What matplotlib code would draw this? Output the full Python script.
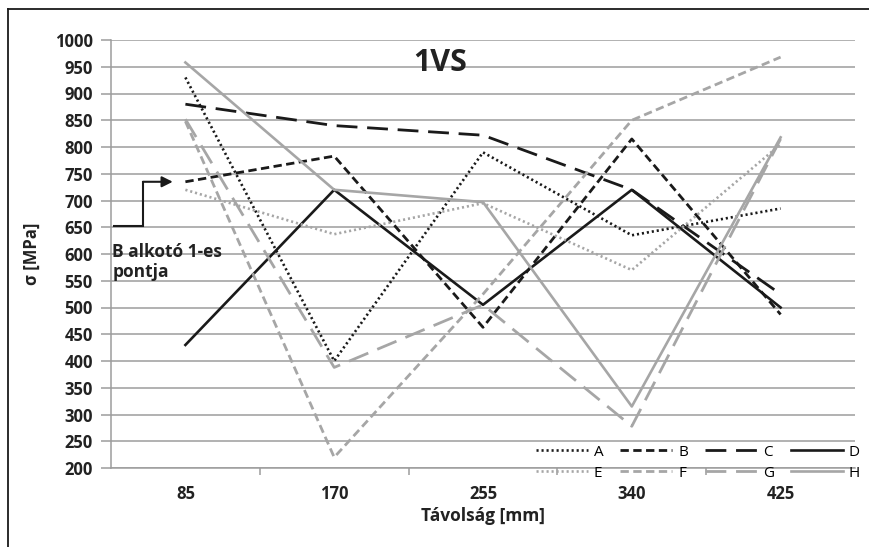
import numpy as np
import matplotlib
matplotlib.use("Agg")
import matplotlib.pyplot as plt
from matplotlib.lines import Line2D

plt.rcParams["font.family"] = ["Open Sans", "DejaVu Sans"]

# distances along the part [mm]
distances = ["85", "170", "255", "340", "425"]

# stress per measuring line [MPa]
A = [930, 400, 790, 635, 685]
B = [735, 783, 463, 815, 487]
C = [880, 840, 822, 720, 525]
D = [430, 720, 505, 720, 500]
E = [720, 637, 695, 570, 805]
F = [848, 220, 525, 850, 968]
G = [852, 388, 505, 278, 815]
H = [958, 720, 697, 315, 818]

series = {"A": A, "B": B, "C": C, "D": D, "E": E, "F": F, "G": G, "H": H}

black = "#1a1a1a"
grey = "#a6a6a6"
styles = {
    "A": dict(color=black, lw=1.9, ls=(0, (0.8, 1.1))),
    "B": dict(color=black, lw=2.0, ls=(0, (3.0, 1.6))),
    "C": dict(color=black, lw=2.0, ls=(0, (7.5, 3.5))),
    "D": dict(color=black, lw=1.9, ls="-"),
    "E": dict(color=grey, lw=1.9, ls=(0, (0.8, 1.1))),
    "F": dict(color=grey, lw=2.0, ls=(0, (3.0, 1.6))),
    "G": dict(color=grey, lw=2.0, ls=(0, (7.5, 3.5))),
    "H": dict(color=grey, lw=1.9, ls="-"),
}

fig = plt.figure(figsize=(8.7, 5.47), dpi=100)
ax = fig.add_axes([111 / 870, 79 / 547, 744 / 870, 428 / 547])

x = np.arange(len(distances))
lines = {}
for name, vals in series.items():
    lines[name], = ax.plot(x, vals, label=name, **styles[name])

ax.set_xlim(-0.5, len(distances) - 0.5)
ax.set_ylim(200, 1000)
ax.set_yticks(np.arange(200, 1001, 50))
ax.set_xticks(x)
ax.set_xticklabels(distances)
ax.set_xticks(np.arange(0.5, len(distances) - 1, 1), minor=True)

gridc = "#9c9c9c"
ax.yaxis.grid(True, color=gridc, lw=1.1)
ax.set_axisbelow(True)
for s in ["top", "right"]:
    ax.spines[s].set_visible(False)
for s in ["left", "bottom"]:
    ax.spines[s].set_color(gridc)
    ax.spines[s].set_linewidth(1.1)

ax.tick_params(axis="y", which="major", length=7, color=gridc, width=1.1,
               labelsize=12, pad=6, labelcolor="#222222")
ax.tick_params(axis="x", which="major", length=0, labelsize=12, pad=12,
               labelcolor="#222222")
ax.tick_params(axis="x", which="minor", length=5, color=gridc, width=1.1)
for lab in ax.get_xticklabels() + ax.get_yticklabels():
    lab.set_fontweight("bold")

ax.set_xlabel("Távolság [mm]", fontsize=12.5, fontweight="bold", labelpad=3,
              color="#222222")
ax.set_ylabel("σ [MPa]", fontsize=12, fontweight="bold", labelpad=10,
              color="#222222")

ax.text(1.71, 957, "1VS", fontsize=22, fontweight="bold", ha="center",
        va="center", color="#222222")

# pointer to the first point of series B
ax.plot([-0.483, -0.282, -0.282], [652, 652, 735], color=black, lw=1.5,
        solid_joinstyle="miter")
ax.annotate("", xy=(-0.085, B[0]), xytext=(-0.285, B[0]),
            arrowprops=dict(arrowstyle="-|>", color=black, lw=1.5,
                            mutation_scale=16, shrinkA=0, shrinkB=0))
ax.text(-0.49, 621, "B alkotó 1-es\npontja", fontsize=12.5, fontweight="bold",
        ha="left", va="top", color="#222222", linespacing=1.15)

order = ["A", "E", "B", "F", "C", "G", "D", "H"]
fig.legend([lines[k] for k in order], order, ncol=4, frameon=False,
           loc="upper left", bbox_to_anchor=(528 / 870, 1 - 437 / 547),
           fontsize=11, handlelength=3.4, handletextpad=0.4,
           columnspacing=1.1, labelspacing=0.4, borderpad=0)

# outer frame
fig.add_artist(Line2D([8.5 / 870, 8.5 / 870], [0, 1 - 8.5 / 547],
                      color=black, lw=1.3, transform=fig.transFigure))
fig.add_artist(Line2D([8.5 / 870, 1], [1 - 8.5 / 547, 1 - 8.5 / 547],
                      color=black, lw=1.3, transform=fig.transFigure))

fig.savefig("out.png", dpi=100)
